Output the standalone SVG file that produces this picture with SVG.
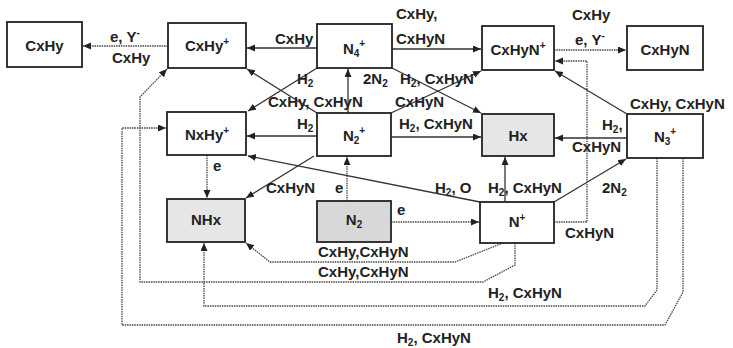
<svg xmlns="http://www.w3.org/2000/svg" width="733" height="348" viewBox="0 0 733 348">
<defs>
<style>
.box{fill:#fff;stroke:#222;stroke-width:1.8}
.sh1{fill:#e6e6e6}
.sh2{fill:#d8d8d8}
.nt{font-family:"Liberation Sans",Arial,sans-serif;font-weight:bold;font-size:15px;fill:#222;text-anchor:middle}
.lb{font-family:"Liberation Sans",Arial,sans-serif;font-weight:bold;font-size:15px;fill:#222}
.s{font-size:10px}
.ln{fill:none;stroke:#333;stroke-width:1.3;marker-end:url(#ah)}
.dt{stroke-dasharray:1.5 0.9;stroke:#444}
</style>
<marker id="ah" markerUnits="userSpaceOnUse" markerWidth="9" markerHeight="8" refX="8" refY="3.5" orient="auto">
<path d="M0,0 L8,3.5 L0,7 z" fill="#222"/>
</marker>
</defs>
<rect width="733" height="348" fill="#fff"/>
<g id="connectors">
<path class="ln dt" d="M168,46 H83"/>
<path class="ln" d="M317,48 H247"/>
<path class="ln" d="M392,49 H481"/>
<path class="ln dt" d="M554,50 H626"/>
<path class="ln" d="M348,113 V69"/>
<path class="ln" d="M317,68 L248,111"/>
<path class="ln" d="M317,113 L247,69"/>
<path class="ln" d="M392,68 L481,113"/>
<path class="ln" d="M391,113 L481,71"/>
<path class="ln" d="M317,136 H247"/>
<path class="ln" d="M391,137 H481"/>
<path class="ln dt" d="M347,201 V157"/>
<path class="ln" d="M314,156 L246,198"/>
<path class="ln" d="M480,202 L248,156"/>
<path class="ln dt" d="M391,222 H479"/>
<path class="ln" d="M505,202 V157"/>
<path class="ln" d="M554,202 L626,159"/>
<path class="ln" d="M627,138 H555"/>
<path class="ln" d="M627,114 L555,71"/>
<path class="ln dt" d="M554,222 H587 V61 H555"/>
<path class="ln dt" d="M503,243 L455,262 H270 L246,243"/>
<path class="ln dt" d="M515,243 V265 L483,282 H140 V97 L167,69"/>
<path class="ln dt" d="M657,158 V290 L645,306 H204 V243"/>
<path class="ln dt" d="M683,158 V292 L665,325 H122 V128 H166"/>
<path class="ln dt" d="M207,155 V198"/>
</g>
<g id="n-cxhy"><rect class="box" x="7" y="22" width="75" height="45"/><text class="nt" x="44.5" y="51">CxHy</text></g>
<g id="n-cxhyp"><rect class="box" x="168" y="23" width="78" height="45"/><text class="nt" x="207" y="51">CxHy<tspan class="s" dy="-6">+</tspan></text></g>
<g id="n-n4p"><rect class="box" x="317" y="24" width="75" height="44"/><text class="nt" x="354" y="54">N<tspan class="s" dy="3">4</tspan><tspan class="s" dy="-10">+</tspan></text></g>
<g id="n-cxhynp"><rect class="box" x="482" y="26" width="72" height="44"/><text class="nt" x="518" y="55">CxHyN<tspan class="s" dy="-6">+</tspan></text></g>
<g id="n-cxhyn"><rect class="box" x="627" y="26" width="76" height="44"/><text class="nt" x="665" y="55">CxHyN</text></g>
<g id="n-nxhyp"><rect class="box" x="167" y="112" width="79" height="43"/><text class="nt" x="207" y="140">NxHy<tspan class="s" dy="-6">+</tspan></text></g>
<g id="n-n2p"><rect class="box" x="317" y="113" width="74" height="43"/><text class="nt" x="354" y="141">N<tspan class="s" dy="3">2</tspan><tspan class="s" dy="-10">+</tspan></text></g>
<g id="n-hx"><rect class="box sh1" x="482" y="114" width="72" height="42"/><text class="nt" x="518" y="141">Hx</text></g>
<g id="n-n3p"><rect class="box" x="627" y="114" width="76" height="44"/><text class="nt" x="665" y="142">N<tspan class="s" dy="3">3</tspan><tspan class="s" dy="-10">+</tspan></text></g>
<g id="n-nhx"><rect class="box sh1" x="167" y="199" width="78" height="43"/><text class="nt" x="206" y="225">NHx</text></g>
<g id="n-n2"><rect class="box sh2" x="317" y="201" width="74" height="41"/><text class="nt" x="354" y="225">N<tspan class="s" dy="3">2</tspan></text></g>
<g id="n-np"><rect class="box" x="480" y="202" width="74" height="41"/><text class="nt" x="517" y="227">N<tspan class="s" dy="-6">+</tspan></text></g>
<g id="labels">
<text class="lb" x="110" y="42">e, Y<tspan class="s" dy="-6">-</tspan></text>
<text class="lb" x="112" y="63">CxHy</text>
<text class="lb" x="275" y="44">CxHy</text>
<text class="lb" x="396" y="19">CxHy,</text>
<text class="lb" x="396" y="44">CxHyN</text>
<text class="lb" x="572" y="20">CxHy</text>
<text class="lb" x="575" y="45">e, Y<tspan class="s" dy="-6">-</tspan></text>
<text class="lb" x="297" y="84">H<tspan class="s" dy="3">2</tspan></text>
<text class="lb" x="363" y="84">2N<tspan class="s" dy="3">2</tspan></text>
<text class="lb" x="400" y="84">H<tspan class="s" dy="3">2</tspan><tspan dy="-3">, CxHyN</tspan></text>
<text class="lb" x="268" y="107">CxHy, CxHyN</text>
<text class="lb" x="395" y="107">CxHyN</text>
<text class="lb" x="297" y="129">H<tspan class="s" dy="3">2</tspan></text>
<text class="lb" x="399" y="129">H<tspan class="s" dy="3">2</tspan><tspan dy="-3">, CxHyN</tspan></text>
<text class="lb" x="602" y="130">H<tspan class="s" dy="3">2</tspan><tspan dy="-3">,</tspan></text>
<text class="lb" x="572" y="152">CxHyN</text>
<text class="lb" x="630" y="109">CxHy, CxHyN</text>
<text class="lb" x="213" y="171">e</text>
<text class="lb" x="266" y="193">CxHyN</text>
<text class="lb" x="335" y="193">e</text>
<text class="lb" x="435" y="193">H<tspan class="s" dy="3">2</tspan><tspan dy="-3">, O</tspan></text>
<text class="lb" x="488" y="193">H<tspan class="s" dy="3">2</tspan><tspan dy="-3">, CxHyN</tspan></text>
<text class="lb" x="602" y="193">2N<tspan class="s" dy="3">2</tspan></text>
<text class="lb" x="397" y="215">e</text>
<text class="lb" x="565" y="238">CxHyN</text>
<text class="lb" x="318" y="257">CxHy,CxHyN</text>
<text class="lb" x="318" y="277">CxHy,CxHyN</text>
<text class="lb" x="488" y="298">H<tspan class="s" dy="3">2</tspan><tspan dy="-3">, CxHyN</tspan></text>
<text class="lb" x="397" y="343">H<tspan class="s" dy="3">2</tspan><tspan dy="-3">, CxHyN</tspan></text>
</g>
</svg>
